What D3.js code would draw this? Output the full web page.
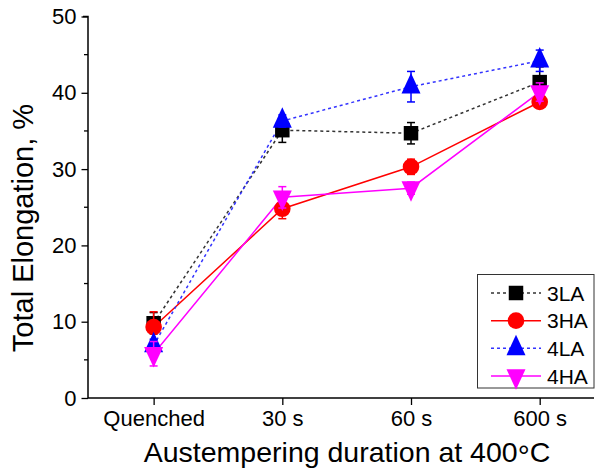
<!DOCTYPE html>
<html>
<head>
<meta charset="utf-8">
<script src="https://cdn.jsdelivr.net/npm/d3@7"></script>
<style>
  html, body { margin: 0; padding: 0; background: #fff; }
  svg { display: block; font-family: "Liberation Sans", Arial, sans-serif; }
</style>
</head>
<body>
<svg id="chart" width="597" height="471"></svg>
<script>
// Austempering durations (x categories)
const categories = ["Quenched", "30 s", "60 s", "600 s"];

// Total elongation (%) and error bars for each steel
const la3 = [9.8, 35.1, 34.7, 41.4];
const la3Err = [1.4, 1.6, 1.4, 2.0];
const ha3 = [9.3, 24.8, 30.3, 38.8];
const ha3Err = [2.0, 1.3, 1.0, 0.8];
const la4 = [6.9, 36.3, 40.8, 44.2];
const la4Err = [0.8, 0.8, 2.0, 1.4];
const ha4 = [5.8, 26.3, 27.5, 40.1];
const ha4Err = [1.6, 1.4, 0.8, 1.2];

const seriesNames = ["3LA", "3HA", "4LA", "4HA"];
const yTicks = [0, 10, 20, 30, 40, 50];
const yMinorTicks = [5, 15, 25, 35, 45];

const series = [
  { name: seriesNames[0], values: la3, err: la3Err, color: "#000000", lineColor: "#333333", dash: "3,3", shape: "square" },
  { name: seriesNames[1], values: ha3, err: ha3Err, color: "#ff0000", lineColor: "#ff0000", dash: null, shape: "circle" },
  { name: seriesNames[2], values: la4, err: la4Err, color: "#0000ff", lineColor: "#3333ff", dash: "3,3", shape: "up" },
  { name: seriesNames[3], values: ha4, err: ha4Err, color: "#ff00ff", lineColor: "#ff00ff", dash: null, shape: "down" }
];

const svg = d3.select("#chart");

const x = d3.scaleLinear().domain([-0.51, 3.422]).range([88, 594]);
const y = d3.scaleLinear().domain([0, 50]).range([398, 16.5]);

// Marker path generator
function markerPath(shape) {
  if (shape === "square") {
    const s = 14.5, h = s / 2;
    return `M${-h},${-h}H${h}V${h}H${-h}Z`;
  }
  if (shape === "circle") {
    const r = 8.3;
    return `M${r},0A${r},${r} 0 1,1 ${-r},0A${r},${r} 0 1,1 ${r},0Z`;
  }
  const w = 19, ht = 20.5;
  if (shape === "up") {
    return `M0,${-2 * ht / 3}L${w / 2},${ht / 3}L${-w / 2},${ht / 3}Z`;
  }
  return `M0,${2 * ht / 3}L${w / 2},${-ht / 3}L${-w / 2},${-ht / 3}Z`;
}

// Axes
const yAxis = d3.axisLeft(y).tickValues(yTicks).tickSize(6.5).tickPadding(5).tickFormat(d3.format("d"));
const gy = svg.append("g").attr("transform", "translate(88,0)").call(yAxis);
gy.select(".domain").attr("stroke", "#000").attr("stroke-width", 1.5).attr("d", `M-5,${y(50)}H0V${y(0)}`);
gy.selectAll(".tick line").attr("stroke", "#000").attr("stroke-width", 1.3);
gy.selectAll(".tick text").attr("font-size", 22).attr("fill", "#000").attr("font-family", "Liberation Sans, Arial, sans-serif");
gy.selectAll(".minor").data(yMinorTicks).enter().append("line")
  .attr("class", "minor")
  .attr("x1", -4).attr("x2", 0)
  .attr("y1", d => y(d)).attr("y2", d => y(d))
  .attr("stroke", "#000").attr("stroke-width", 1.3);

const xAxis = d3.axisBottom(x).tickValues(d3.range(categories.length)).tickSize(7).tickPadding(5)
  .tickFormat(i => categories[i]);
const gx = svg.append("g").attr("transform", "translate(0,398)").call(xAxis);
gx.select(".domain").attr("stroke", "#000").attr("stroke-width", 1.5).attr("d", `M${x.range()[0]},0H${x.range()[1]}`);
gx.selectAll(".tick line").attr("stroke", "#000").attr("stroke-width", 1.3);
gx.selectAll(".tick text").attr("font-size", 22).attr("fill", "#000").attr("font-family", "Liberation Sans, Arial, sans-serif");

// Axis titles
svg.append("text")
  .attr("transform", "translate(33,228) rotate(-90)")
  .attr("text-anchor", "middle")
  .attr("font-size", 29)
  .attr("fill", "#000")
  .text("Total Elongation, %");

const xt = svg.append("text")
  .attr("x", 347).attr("y", 462)
  .attr("text-anchor", "middle")
  .attr("font-size", 28.5)
  .attr("fill", "#000");
xt.append("tspan").text("Austempering duration at 400");
xt.append("tspan").attr("font-size", 30).attr("dy", 4).text("\u00b0");
xt.append("tspan").attr("dy", -4).text("C");

// Connecting lines
const line = d3.line().x((d, i) => x(i)).y(d => y(d));
series.forEach(s => {
  svg.append("path")
    .attr("d", line(s.values))
    .attr("fill", "none")
    .attr("stroke", s.lineColor)
    .attr("stroke-width", 1.5)
    .attr("stroke-dasharray", s.dash);
});

// Markers and error bars
series.forEach(s => {
  const g = svg.append("g");
  g.selectAll("path.mk").data(s.values).enter().append("path")
    .attr("class", "mk")
    .attr("transform", (d, i) => `translate(${x(i)},${y(d)})`)
    .attr("d", markerPath(s.shape))
    .attr("fill", s.color);
  const eb = g.selectAll("g.eb").data(s.values).enter().append("g").attr("class", "eb")
    .attr("stroke", s.color).attr("stroke-width", 1.5);
  eb.append("line")
    .attr("x1", (d, i) => x(i)).attr("x2", (d, i) => x(i))
    .attr("y1", (d, i) => y(d + s.err[i])).attr("y2", (d, i) => y(d - s.err[i]));
  eb.append("line")
    .attr("x1", (d, i) => x(i) - 4).attr("x2", (d, i) => x(i) + 4)
    .attr("y1", (d, i) => y(d + s.err[i])).attr("y2", (d, i) => y(d + s.err[i]));
  eb.append("line")
    .attr("x1", (d, i) => x(i) - 4).attr("x2", (d, i) => x(i) + 4)
    .attr("y1", (d, i) => y(d - s.err[i])).attr("y2", (d, i) => y(d - s.err[i]));
});

// Legend
const legend = svg.append("g");
legend.append("rect")
  .attr("x", 477.5).attr("y", 274.5).attr("width", 116.5).attr("height", 113.5)
  .attr("fill", "#fff").attr("stroke", "#333").attr("stroke-width", 1);
const rowY = d3.scaleLinear().domain([0, 3]).range([293, 376]);
series.forEach((s, i) => {
  const yy = rowY(i);
  legend.append("line")
    .attr("x1", 491).attr("x2", 541).attr("y1", yy).attr("y2", yy)
    .attr("stroke", s.lineColor).attr("stroke-width", 1.5)
    .attr("stroke-dasharray", s.dash);
  legend.append("path")
    .attr("transform", `translate(516,${yy})`)
    .attr("d", markerPath(s.shape))
    .attr("fill", s.color);
  legend.append("text")
    .attr("x", 547).attr("y", yy + 7.5)
    .attr("font-size", 21).attr("fill", "#000")
    .text(s.name);
});
</script>
</body>
</html>
